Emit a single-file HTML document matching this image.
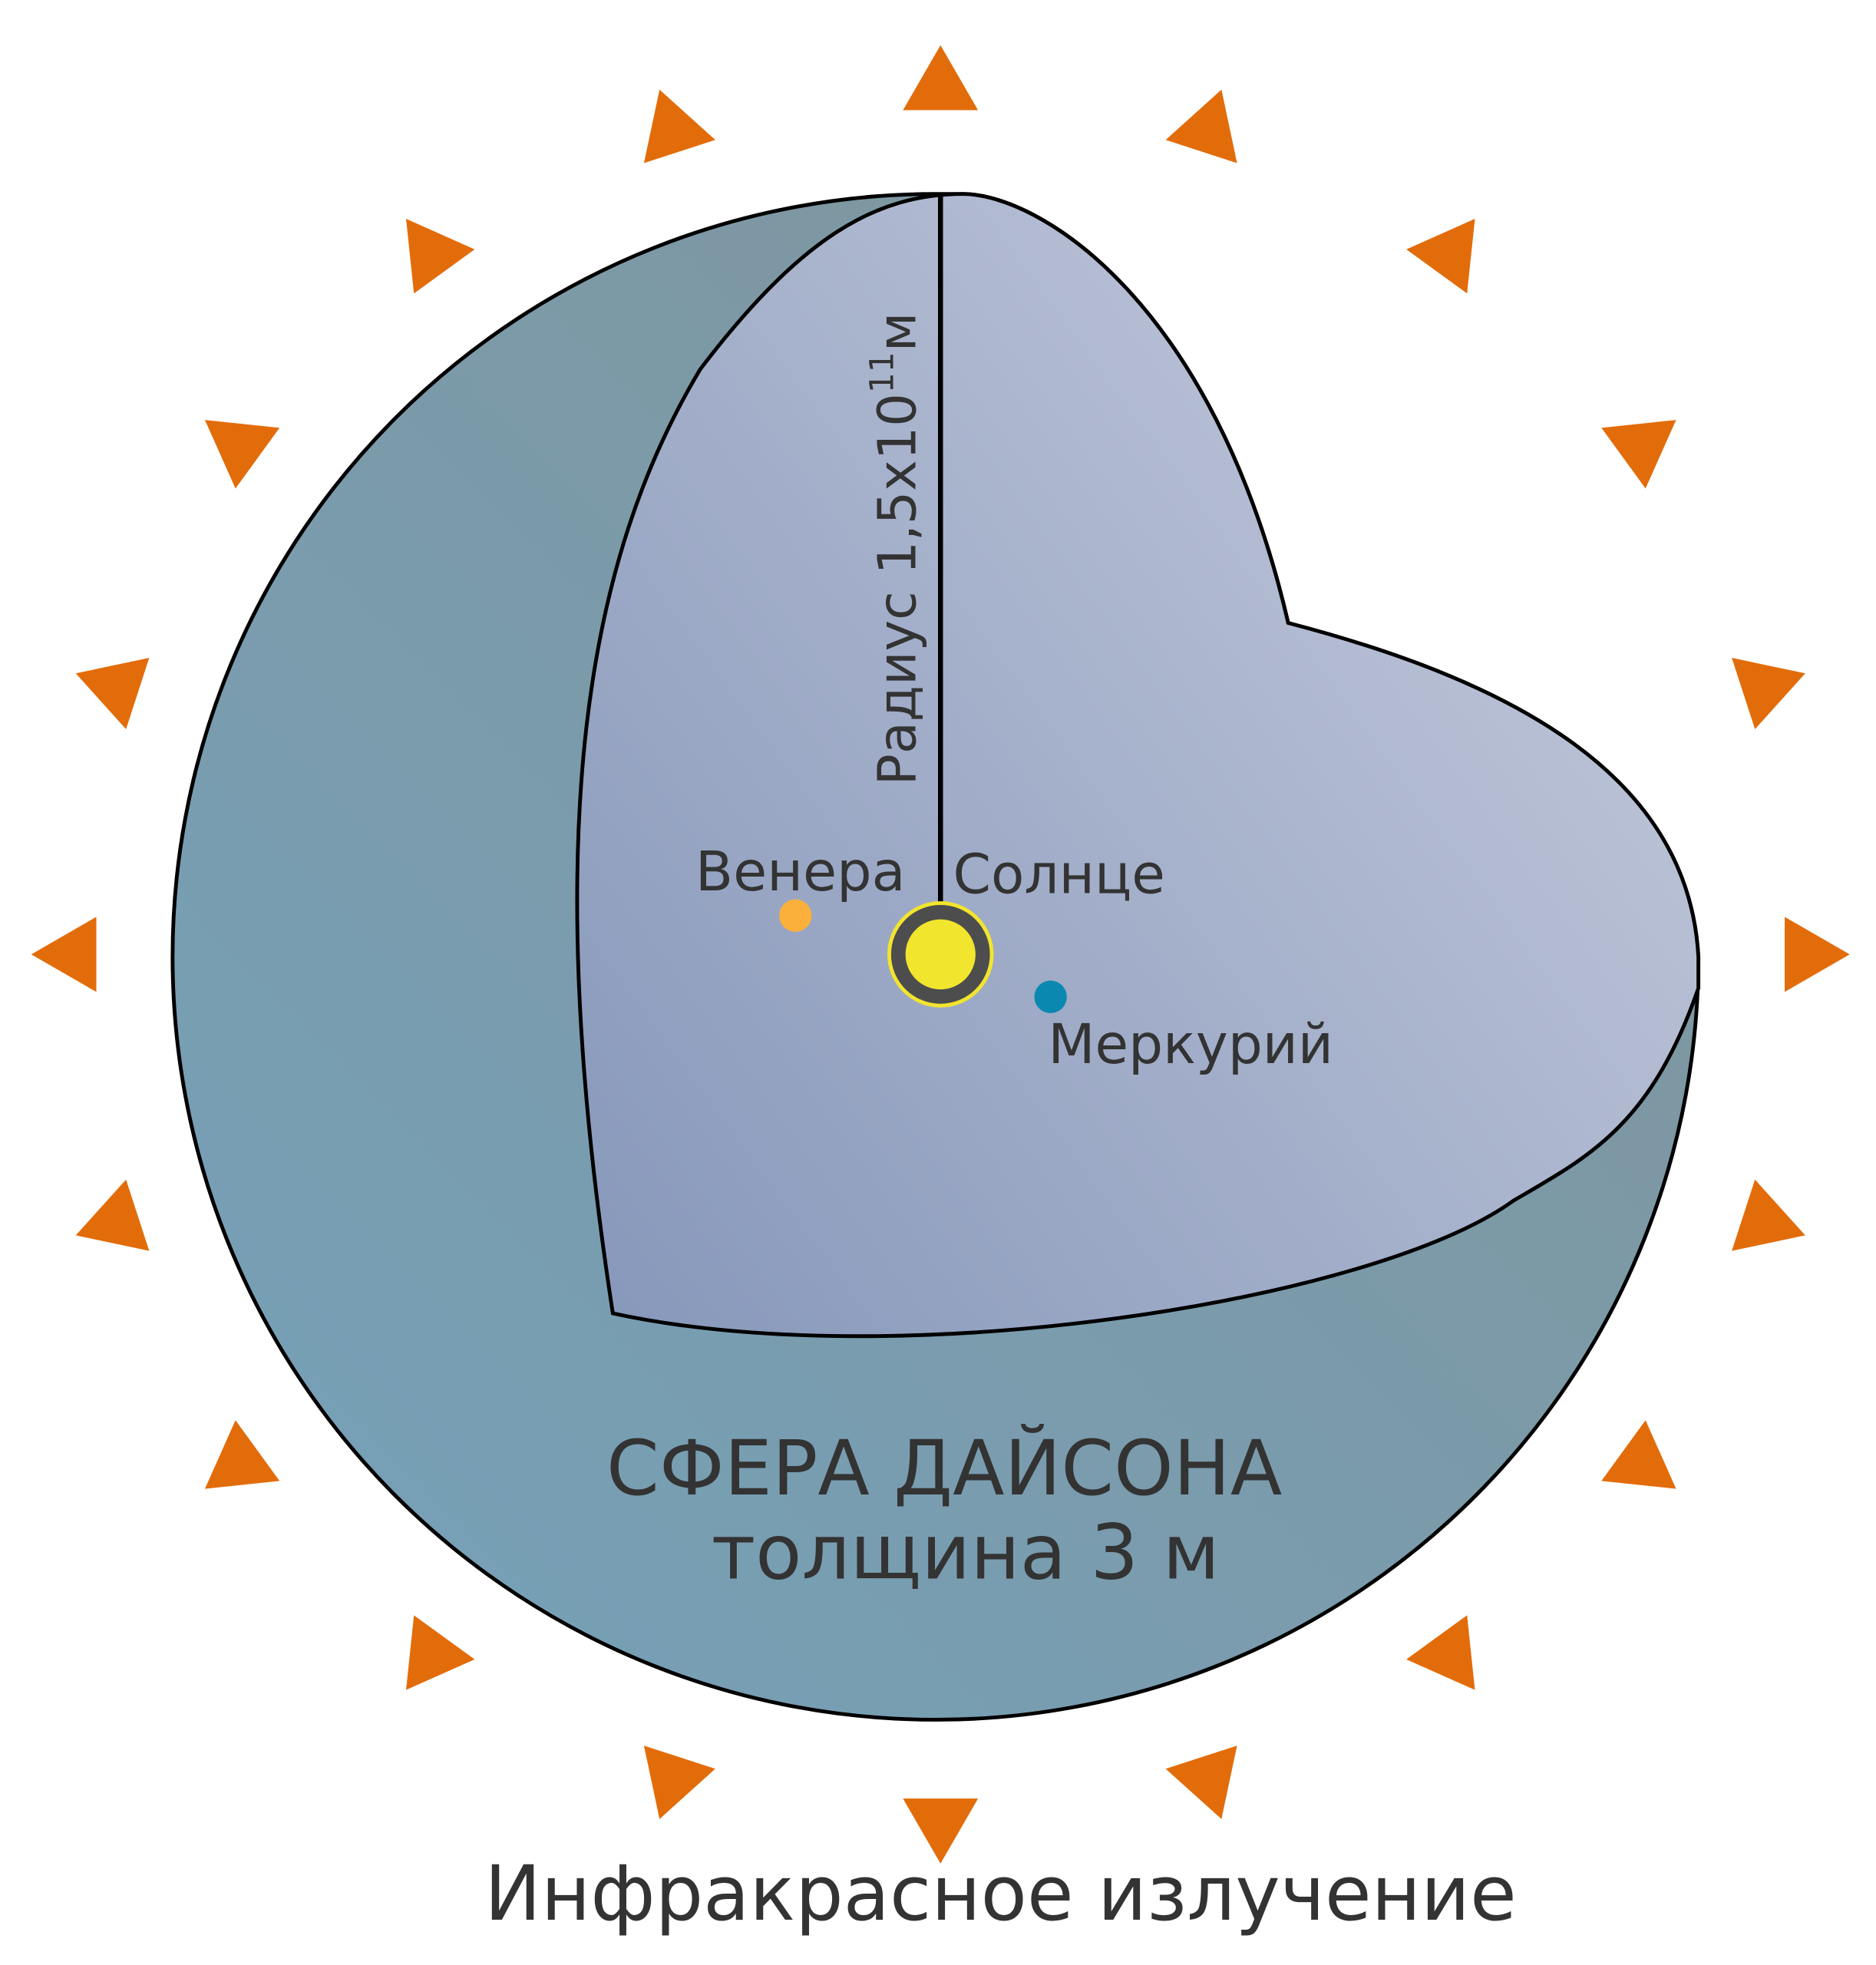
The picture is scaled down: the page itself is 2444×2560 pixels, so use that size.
<!DOCTYPE html>
<html><head><meta charset="utf-8"><style>
html,body{margin:0;padding:0;background:#fff;}
svg{display:block;}
text{font-family:"DejaVu Sans","Liberation Sans",sans-serif;fill:#333;}
</style></head><body>
<svg width="2444" height="2560" viewBox="0 0 1500 1571" xmlns="http://www.w3.org/2000/svg">
<defs>
<linearGradient id="sph" x1="0.85" y1="0.15" x2="0.15" y2="0.85">
<stop offset="0" stop-color="#7F969E"/><stop offset="1" stop-color="#779FB5"/>
</linearGradient>
<linearGradient id="face" x1="1" y1="0.25" x2="0" y2="1">
<stop offset="0" stop-color="#C2C8DA"/><stop offset="1" stop-color="#8697BA"/>
</linearGradient>
<polygon id="tri" points="752,36 722,88 782,88" fill="#E36C0A"/>
</defs>
<g>
<use href="#tri" transform="rotate(0 752 763)"/>
<use href="#tri" transform="rotate(18 752 763)"/>
<use href="#tri" transform="rotate(36 752 763)"/>
<use href="#tri" transform="rotate(54 752 763)"/>
<use href="#tri" transform="rotate(72 752 763)"/>
<use href="#tri" transform="rotate(90 752 763)"/>
<use href="#tri" transform="rotate(108 752 763)"/>
<use href="#tri" transform="rotate(126 752 763)"/>
<use href="#tri" transform="rotate(144 752 763)"/>
<use href="#tri" transform="rotate(162 752 763)"/>
<use href="#tri" transform="rotate(180 752 763)"/>
<use href="#tri" transform="rotate(198 752 763)"/>
<use href="#tri" transform="rotate(216 752 763)"/>
<use href="#tri" transform="rotate(234 752 763)"/>
<use href="#tri" transform="rotate(252 752 763)"/>
<use href="#tri" transform="rotate(270 752 763)"/>
<use href="#tri" transform="rotate(288 752 763)"/>
<use href="#tri" transform="rotate(306 752 763)"/>
<use href="#tri" transform="rotate(324 752 763)"/>
<use href="#tri" transform="rotate(342 752 763)"/>
</g>
<path d="M748,155 A610,610 0 1 0 1358,765 C1350,620 1210,545 1030,498 C970,240 830,155 770,155 Z" fill="url(#sph)" stroke="#000" stroke-width="3"/>
<path d="M770,155 C700,155 640,190 560,295 C470,445 430,660 490,1050 C720,1100 1100,1040 1210,960 C1270,925 1320,900 1358,790 L1358,765 C1350,620 1210,545 1030,498 C970,240 830,155 770,155 Z" fill="url(#face)" stroke="#000" stroke-width="3"/>
<line x1="752" y1="155" x2="752" y2="735" stroke="#000" stroke-width="4"/>
<circle cx="752" cy="763" r="41" fill="#4D4D4D" stroke="#F2E52D" stroke-width="3"/>
<circle cx="752" cy="763" r="28" fill="#F2E52D"/>
<circle cx="636" cy="732" r="13" fill="#FBB03B"/>
<circle cx="840" cy="797" r="13" fill="#0A88B0"/>
<text transform="translate(732 628) rotate(-90)" font-size="42">Радиус 1,5x10<tspan dy="-18" font-size="26">11</tspan><tspan dy="18">м</tspan></text>
<text x="556" y="712" font-size="44">Венера</text>
<text x="762" y="714" font-size="43.5">Солнце</text>
<text x="838" y="850" font-size="43.5">Меркурий</text>
<text x="755" y="1195" font-size="60.5" text-anchor="middle">СФЕРА ДАЙСОНА</text>
<text x="772" y="1262" font-size="60.5" text-anchor="middle">толщина 3 м</text>
<text x="800" y="1535" font-size="60.5" text-anchor="middle">Инфракрасное излучение</text>
</svg>
</body></html>
